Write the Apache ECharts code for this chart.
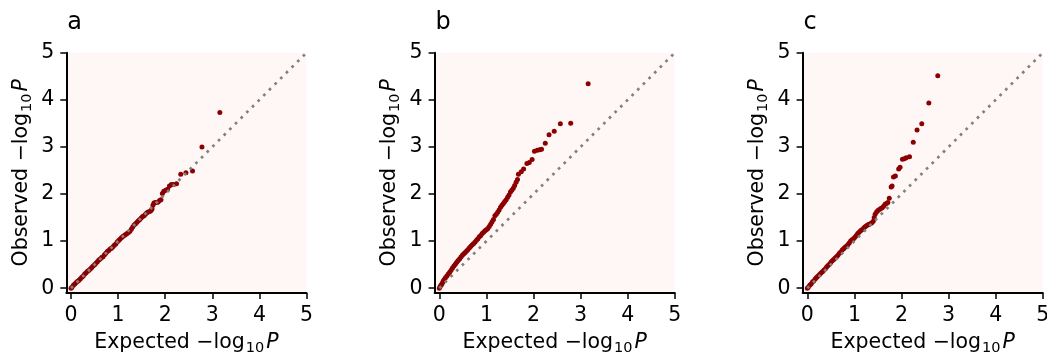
<!DOCTYPE html>
<html>
<head>
<meta charset="utf-8">
<script src="https://cdn.jsdelivr.net/npm/echarts@6/dist/echarts.min.js"></script>
<style>
html,body{margin:0;padding:0;background:#fff;}
#chart{width:1047px;height:356px;}
</style>
</head>
<body>
<div id="chart"></div>
<script>
// Panel titles
const panelTitles = ['a', 'b', 'c'];
// Tick labels (both axes)
const tickValues = [0, 1, 2, 3, 4, 5];
// Diagonal reference line (expected = observed)
const diagonal = [[0, 0], [5, 5]];

// Panel a: [expected -log10 P, observed -log10 P]
const panelA = [[0,0],[0.02,0.02],[0.05,0.06],[0.08,0.09],[0.11,0.12],[0.14,0.15],[0.17,0.17],[0.2,0.2],[0.23,0.23],[0.26,0.26],[0.29,0.3],[0.32,0.33],[0.35,0.36],[0.38,0.38],[0.41,0.41],[0.44,0.44],[0.47,0.47],[0.5,0.5],[0.53,0.53],[0.56,0.56],[0.59,0.6],[0.62,0.62],[0.65,0.65],[0.68,0.67],[0.71,0.71],[0.74,0.74],[0.77,0.78],[0.8,0.8],[0.83,0.83],[0.86,0.85],[0.89,0.88],[0.92,0.91],[0.95,0.94],[0.98,0.98],[1.01,1.01],[1.04,1.04],[1.07,1.07],[1.1,1.1],[1.13,1.12],[1.16,1.14],[1.19,1.16],[1.22,1.18],[1.25,1.21],[1.28,1.25],[1.31,1.3],[1.34,1.34],[1.37,1.37],[1.4,1.4],[1.43,1.43],[1.46,1.46],[1.49,1.49],[1.52,1.52],[1.55,1.54],[1.58,1.57],[1.61,1.6],[1.64,1.62],[1.67,1.63],[1.7,1.65],[1.72,1.68],[1.74,1.76],[1.76,1.81],[1.79,1.82],[1.82,1.82],[1.85,1.83],[1.88,1.86],[1.91,1.88],[1.94,2.01],[1.97,2.06],[2.01,2.08],[2.05,2.1],[2.09,2.17],[2.13,2.2],[2.18,2.2],[2.24,2.22],[2.33,2.42],[2.44,2.45],[2.58,2.49],[2.78,3.0],[3.16,3.73]];

// Panel b
const panelB = [[0,0],[0.02,0.04],[0.04,0.07],[0.06,0.1],[0.08,0.14],[0.1,0.18],[0.13,0.22],[0.16,0.26],[0.19,0.3],[0.22,0.34],[0.25,0.38],[0.28,0.43],[0.31,0.47],[0.34,0.51],[0.37,0.55],[0.4,0.59],[0.43,0.62],[0.46,0.66],[0.49,0.7],[0.52,0.73],[0.55,0.76],[0.58,0.79],[0.61,0.82],[0.64,0.86],[0.67,0.89],[0.7,0.92],[0.73,0.95],[0.76,0.98],[0.79,1.02],[0.82,1.05],[0.85,1.09],[0.88,1.12],[0.91,1.16],[0.94,1.19],[0.97,1.22],[1.0,1.24],[1.03,1.27],[1.06,1.31],[1.09,1.36],[1.12,1.41],[1.15,1.46],[1.18,1.54],[1.21,1.57],[1.24,1.61],[1.27,1.66],[1.3,1.72],[1.33,1.76],[1.36,1.8],[1.39,1.84],[1.42,1.88],[1.45,1.93],[1.48,1.98],[1.51,2.04],[1.54,2.08],[1.57,2.12],[1.6,2.18],[1.63,2.25],[1.66,2.31],[1.68,2.42],[1.74,2.47],[1.79,2.53],[1.86,2.65],[1.91,2.67],[1.97,2.73],[2.02,2.91],[2.08,2.93],[2.13,2.94],[2.17,2.95],[2.25,3.08],[2.33,3.26],[2.44,3.33],[2.57,3.49],[2.79,3.5],[3.16,4.34]];

// Panel c
const panelC = [[0,0],[0.02,0.02],[0.05,0.06],[0.08,0.09],[0.11,0.13],[0.14,0.16],[0.17,0.2],[0.2,0.23],[0.23,0.26],[0.26,0.29],[0.29,0.32],[0.32,0.35],[0.35,0.38],[0.38,0.41],[0.41,0.45],[0.44,0.48],[0.47,0.51],[0.5,0.55],[0.53,0.58],[0.56,0.61],[0.59,0.64],[0.62,0.67],[0.65,0.7],[0.68,0.74],[0.71,0.77],[0.74,0.81],[0.77,0.84],[0.8,0.87],[0.83,0.89],[0.86,0.92],[0.89,0.96],[0.92,1.0],[0.95,1.03],[0.98,1.05],[1.01,1.08],[1.04,1.12],[1.07,1.16],[1.1,1.19],[1.13,1.22],[1.16,1.24],[1.19,1.27],[1.22,1.3],[1.25,1.32],[1.28,1.34],[1.31,1.36],[1.34,1.37],[1.37,1.39],[1.4,1.42],[1.42,1.5],[1.44,1.57],[1.47,1.62],[1.5,1.65],[1.53,1.67],[1.56,1.69],[1.59,1.71],[1.62,1.74],[1.65,1.78],[1.68,1.8],[1.71,1.82],[1.74,1.91],[1.78,2.15],[1.8,2.17],[1.83,2.36],[1.87,2.38],[1.94,2.53],[1.97,2.57],[2.02,2.74],[2.06,2.75],[2.1,2.77],[2.17,2.79],[2.25,3.1],[2.33,3.36],[2.43,3.49],[2.58,3.93],[2.77,4.51]];

const panels = [panelA, panelB, panelC];
const gridLefts = [66.3, 434.6, 802.6];
const FONT = 'DejaVu Sans';
const FS = 20.5;

const nameRich = {
  n: {fontSize: FS, fontFamily: FONT, color: '#000', lineHeight: 26, verticalAlign: 'middle'},
  s: {fontSize: 14.5, fontFamily: FONT, color: '#000', lineHeight: 15, verticalAlign: 'bottom', padding: [0, 2, 0, 1]},
  i: {fontSize: FS, fontFamily: FONT, color: '#000', fontStyle: 'italic', lineHeight: 26, verticalAlign: 'middle'}
};

const grids = [], xAxes = [], yAxes = [], series = [], titles = [];
panels.forEach((data, i) => {
  grids.push({left: gridLefts[i], top: 52.7, width: 240.2, height: 240.2, show: true,
    backgroundColor: '#fff7f6', borderWidth: 0, containLabel: false, outerBoundsMode: 'none'});
  const common = {
    gridIndex: i, type: 'value', min: -0.1, max: 5,
    axisLine: {show: true, onZero: false, lineStyle: {color: '#000', width: 2}},
    axisTick: {show: true, customValues: tickValues, length: 6, lineStyle: {color: '#000', width: 1.5}},
    axisLabel: {customValues: tickValues, margin: 12, fontSize: FS, fontFamily: FONT, color: '#000'},
    splitLine: {show: false},
    nameLocation: 'middle',
    nameTextStyle: {fontSize: FS, fontFamily: FONT, color: '#000', rich: nameRich}
  };
  xAxes.push(Object.assign({}, common, {name: '{n|Expected −log}{s|10}{i|P}', nameGap: 37}));
  yAxes.push(Object.assign({}, common, {name: '{n|Observed −log}{s|10}{i|P}', nameGap: 32, nameRotate: 90}));
  series.push({type: 'scatter', xAxisIndex: i, yAxisIndex: i, data: data, symbolSize: 5,
    itemStyle: {color: '#8b0000', opacity: 1}, silent: true, z: 2});
  series.push({type: 'line', xAxisIndex: i, yAxisIndex: i, data: diagonal, symbol: 'none',
    lineStyle: {color: '#808080', width: 2.7, type: [2.7, 5.3], cap: 'butt'}, silent: true, z: 3});
  titles.push({text: panelTitles[i], left: gridLefts[i] + 1, top: 11, padding: 0,
    textStyle: {fontSize: 24, fontWeight: 'normal', fontFamily: FONT, color: '#000'}});
});

const chart = echarts.init(document.getElementById('chart'), null, {renderer: 'canvas'});
chart.setOption({
  animation: false,
  backgroundColor: '#fff',
  title: titles,
  grid: grids,
  xAxis: xAxes,
  yAxis: yAxes,
  series: series
});
</script>
</body>
</html>
